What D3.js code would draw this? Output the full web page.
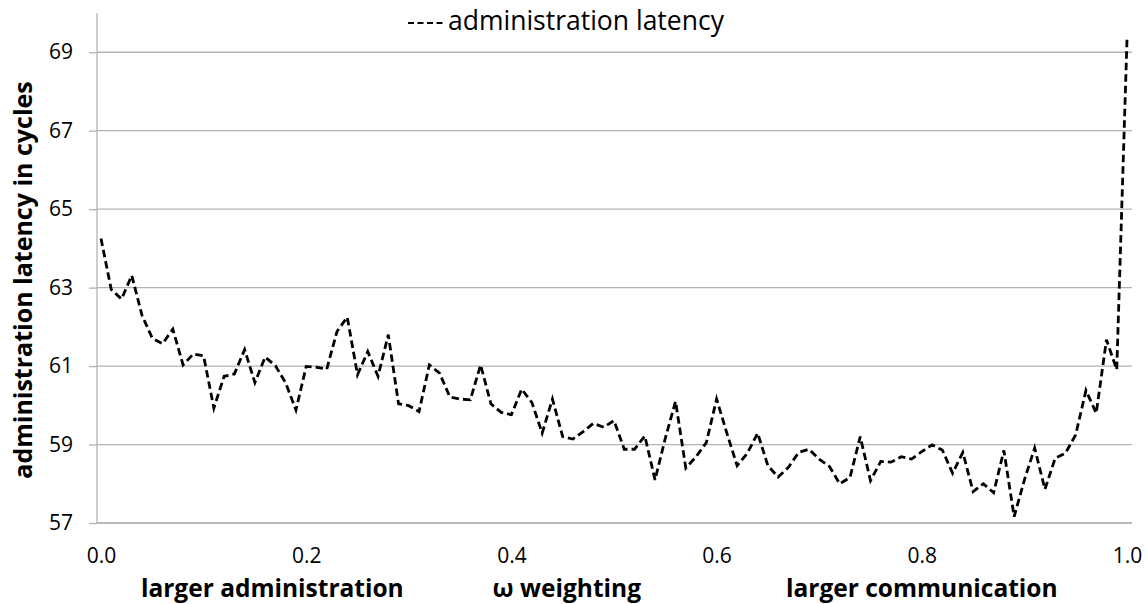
<!DOCTYPE html>
<html>
<head>
<meta charset="utf-8">
<script src="https://cdn.jsdelivr.net/npm/d3@7"></script>
<style>
  body { margin: 0; background: #fff; }
  svg text { font-family: "Open Sans", sans-serif; fill: #000; }
  .grid line { stroke: #b3b3b3; stroke-width: 1.3; }
  .axis path, .axis line { stroke: #b3b3b3; stroke-width: 1.3; }
  .axis text { font-size: 21px; }
  .label { font-size: 25px; font-weight: bold; }
  .bottom-label { font-size: 24.5px; }
</style>
</head>
<body>
<svg id="chart" width="1148" height="604"></svg>
<script>
// omega weighting 0.00 .. 1.00 step 0.01
const weights = d3.range(0, 101).map(i => i / 100);
const latency = [
  64.25, 62.95, 62.71, 63.31, 62.29, 61.71, 61.57, 61.94, 61.03, 61.31,
  61.26, 59.93, 60.74, 60.80, 61.42, 60.58, 61.23, 61.01, 60.57, 59.88,
  60.99, 60.97, 60.92, 61.88, 62.25, 60.78, 61.37, 60.74, 61.80, 60.04,
  59.99, 59.84, 61.03, 60.82, 60.21, 60.16, 60.14, 61.03, 60.04, 59.82,
  59.76, 60.41, 60.07, 59.29, 60.16, 59.20, 59.14, 59.33, 59.54, 59.44,
  59.61, 58.88, 58.88, 59.22, 58.10, 59.16, 60.10, 58.40, 58.69, 59.05,
  60.16, 59.29, 58.46, 58.78, 59.29, 58.46, 58.17, 58.42, 58.80, 58.88,
  58.63, 58.44, 58.00, 58.16, 59.20, 58.08, 58.57, 58.55, 58.69, 58.63,
  58.82, 58.99, 58.86, 58.27, 58.80, 57.80, 58.00, 57.77, 58.85, 57.16,
  58.10, 58.91, 57.86, 58.65, 58.78, 59.25, 60.38, 59.80, 61.67, 60.91,
  69.33
];
const yTicks = [57, 59, 61, 63, 65, 67, 69];
const xTicks = [0, 0.2, 0.4, 0.6, 0.8, 1.0];
const seriesName = 'administration latency';
const yTitle = 'administration latency in cycles';
const bottomLabels = [
  {text: 'larger administration', at: 0.167},
  {text: 'ω weighting', at: 0.454},
  {text: 'larger communication', at: 0.80}
];

const data = weights.map((w, i) => ({w: w, v: latency[i]}));

const margin = {top: 13, right: 16, bottom: 81, left: 97};
const width = 1148 - margin.left - margin.right;
const height = 604 - margin.top - margin.bottom;

const svg = d3.select('#chart');
const chart = svg.append('g')
    .attr('transform', `translate(${margin.left},${margin.top})`);

// x domain starts a touch before 0 like the original plot area
const xScale = d3.scaleLinear().domain([-0.0039, 1.0]).range([0, width - 5]);
const yScale = d3.scaleLinear().domain([57, 70]).range([height, 0]);

// horizontal gridlines
chart.append('g')
    .attr('class', 'grid')
    .selectAll('line')
    .data(yTicks)
  .join('line')
    .attr('x1', 0)
    .attr('x2', width)
    .attr('y1', d => yScale(d))
    .attr('y2', d => yScale(d));

// y axis
const yAxis = d3.axisLeft(yScale).tickValues(yTicks).tickSize(8).tickPadding(16).tickSizeOuter(0);
const yAxisG = chart.append('g').attr('class', 'axis y-axis').call(yAxis);
yAxisG.attr('font-family', null);
yAxisG.select('.domain').attr('d', `M0,0V${height}`);

// x axis
const xAxis = d3.axisBottom(xScale).tickValues(xTicks).tickFormat(d3.format('.1f'))
    .tickSize(0).tickPadding(25).tickSizeOuter(0);
const xAxisG = chart.append('g')
    .attr('class', 'axis x-axis')
    .attr('transform', `translate(0,${height})`)
    .call(xAxis);
xAxisG.attr('font-family', null);
xAxisG.select('.domain').attr('d', `M0,0H${width}`);

// data line
const line = d3.line().x(d => xScale(d.w)).y(d => yScale(d.v));
chart.append('path')
    .datum(data)
    .attr('fill', 'none')
    .attr('stroke', '#000')
    .attr('stroke-width', 2.8)
    .attr('stroke-dasharray', '7.5,4')
    .attr('d', line);

// legend
const legend = svg.append('g').attr('transform', 'translate(408,23)');
legend.append('line')
    .attr('x1', 0).attr('x2', 38)
    .attr('stroke', '#000')
    .attr('stroke-width', 2)
    .attr('stroke-dasharray', '6,3.5');
legend.append('text')
    .attr('x', 40)
    .attr('y', 7)
    .attr('font-size', 26.5)
    .text(seriesName);

// y axis title
svg.append('text')
    .attr('class', 'label')
    .attr('transform', 'translate(32,280) rotate(-90)')
    .attr('text-anchor', 'middle')
    .text(yTitle);

// bottom labels
svg.selectAll('.bottom-label')
    .data(bottomLabels)
  .join('text')
    .attr('class', 'label bottom-label')
    .attr('x', d => margin.left + xScale(d.at))
    .attr('y', 597)
    .attr('text-anchor', 'middle')
    .text(d => d.text);
</script>
</body>
</html>
